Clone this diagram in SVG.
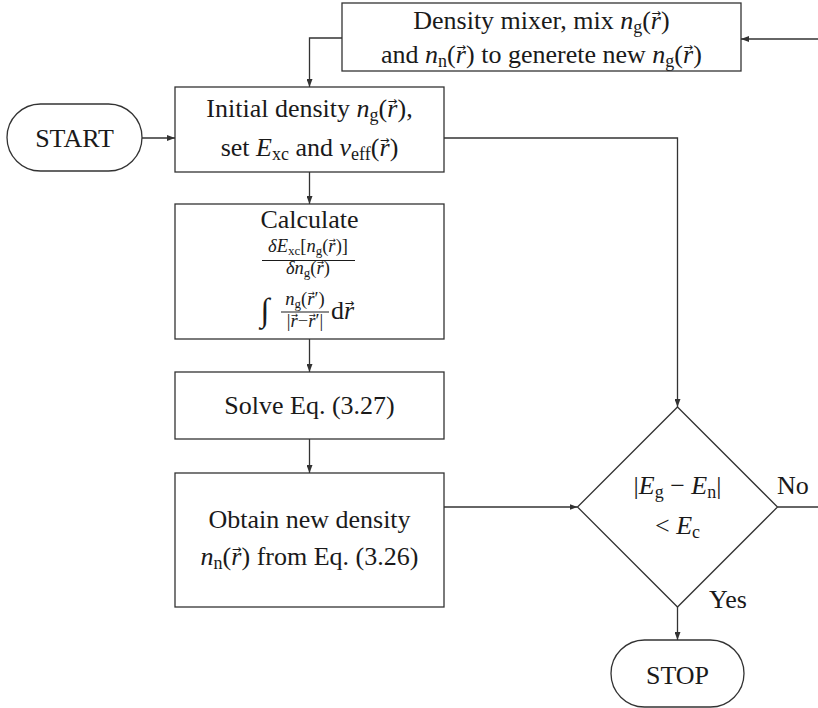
<svg xmlns="http://www.w3.org/2000/svg" width="818" height="708" viewBox="0 0 818 708">
<style>
.t{font-family:"Liberation Serif","DejaVu Serif",serif;font-size:26px;fill:#1a1a1a}
.i{font-style:italic}
.s{font-size:18px}
.f{font-size:18.5px}
.ss{font-size:13px}
.v{font-family:"DejaVu Sans",sans-serif;font-size:11.5px;font-style:normal}
.vs{font-family:"DejaVu Sans",sans-serif;font-size:8.5px;font-style:normal}
.box{fill:#fff;stroke:#333;stroke-width:1.3}
.conn{fill:none;stroke:#333;stroke-width:1.3}
.bar{stroke:#1a1a1a;stroke-width:1}
</style>
<defs>
<marker id="ah" viewBox="0 0 8 6" refX="8" refY="3" markerWidth="8" markerHeight="6" markerUnits="userSpaceOnUse" orient="auto">
<path d="M0,0 L8,3 L0,6 z" fill="#333"/>
</marker>
</defs>

<g id="connectors">
<path class="conn" d="M142,138 H175" marker-end="url(#ah)"/>
<path class="conn" d="M309.5,172 V204" marker-end="url(#ah)"/>
<path class="conn" d="M309.5,339 V372" marker-end="url(#ah)"/>
<path class="conn" d="M309.5,439 V473" marker-end="url(#ah)"/>
<path class="conn" d="M444,507 H577.5" marker-end="url(#ah)"/>
<path class="conn" d="M444,138 H677.5 V407" marker-end="url(#ah)"/>
<path class="conn" d="M677.5,607 V640" marker-end="url(#ah)"/>
<path class="conn" d="M777.5,507 H818"/>
<path class="conn" d="M818,39 H741" marker-end="url(#ah)"/>
<path class="conn" d="M342,38 H309.5 V87" marker-end="url(#ah)"/>
</g>

<g id="start">
<rect class="box" x="7" y="104" width="135" height="67" rx="33.5"/>
<text class="t" x="74.5" y="147" text-anchor="middle">START</text>
</g>

<g id="mixer">
<rect class="box" x="342" y="3" width="399" height="68"/>
<text class="t" x="541.5" y="29" text-anchor="middle">Density mixer, mix <tspan class="i">n</tspan><tspan class="s" dy="4">g</tspan><tspan dy="-4">(</tspan><tspan class="i">r</tspan><tspan class="v" dx="-9.5" dy="-12.5">→</tspan><tspan dy="12.5">)</tspan></text>
<text class="t" x="541.5" y="63" text-anchor="middle">and <tspan class="i">n</tspan><tspan class="s" dy="4">n</tspan><tspan dy="-4">(</tspan><tspan class="i">r</tspan><tspan class="v" dx="-9.5" dy="-12.5">→</tspan><tspan dy="12.5">)</tspan> to generete new <tspan class="i">n</tspan><tspan class="s" dy="4">g</tspan><tspan dy="-4">(</tspan><tspan class="i">r</tspan><tspan class="v" dx="-9.5" dy="-12.5">→</tspan><tspan dy="12.5">)</tspan></text>
</g>

<g id="initial">
<rect class="box" x="175" y="87" width="269" height="85"/>
<text class="t" x="309.5" y="117" text-anchor="middle">Initial density <tspan class="i">n</tspan><tspan class="s" dy="4">g</tspan><tspan dy="-4">(</tspan><tspan class="i">r</tspan><tspan class="v" dx="-9.5" dy="-12.5">→</tspan><tspan dy="12.5">),</tspan></text>
<text class="t" x="309.5" y="156" text-anchor="middle">set <tspan class="i">E</tspan><tspan class="s" dy="4">xc</tspan><tspan dy="-4"> and </tspan><tspan class="i">v</tspan><tspan class="s" dy="4">eff</tspan><tspan dy="-4">(</tspan><tspan class="i">r</tspan><tspan class="v" dx="-9.5" dy="-12.5">→</tspan><tspan dy="12.5">)</tspan></text>
</g>

<g id="calculate">
<rect class="box" x="175" y="204" width="269" height="135"/>
<text class="t" x="309.5" y="228" text-anchor="middle">Calculate</text>
<text class="t f" x="308" y="252" text-anchor="middle"><tspan class="i">δE</tspan><tspan class="ss" dy="3">xc</tspan><tspan dy="-3">[</tspan><tspan class="i">n</tspan><tspan class="ss" dy="3">g</tspan><tspan dy="-3">(</tspan><tspan class="i">r</tspan><tspan class="vs" dx="-7" dy="-9">→</tspan><tspan dy="9">)]</tspan></text>
<line class="bar" x1="262" y1="260.5" x2="355" y2="260.5"/>
<text class="t f" x="308" y="274" text-anchor="middle"><tspan class="i">δn</tspan><tspan class="ss" dy="3">g</tspan><tspan dy="-3">(</tspan><tspan class="i">r</tspan><tspan class="vs" dx="-7" dy="-9">→</tspan><tspan dy="9">)</tspan></text>
<text class="t i" x="265" y="321" text-anchor="middle" style="font-size:33px">∫</text>
<text class="t f" x="305" y="305" text-anchor="middle"><tspan class="i">n</tspan><tspan class="ss" dy="3">g</tspan><tspan dy="-3">(</tspan><tspan class="i">r</tspan><tspan class="vs" dx="-7" dy="-9">→</tspan><tspan dy="9">′)</tspan></text>
<line class="bar" x1="281" y1="312" x2="329" y2="312"/>
<text class="t f" x="305" y="327" text-anchor="middle">|<tspan class="i">r</tspan><tspan class="vs" dx="-7" dy="-9">→</tspan><tspan dy="9">−</tspan><tspan class="i">r</tspan><tspan class="vs" dx="-7" dy="-9">→</tspan><tspan dy="9">′|</tspan></text>
<text class="t" x="331" y="319">d<tspan class="i">r</tspan><tspan class="v" dx="-9.5" dy="-12.5">→</tspan></text>
</g>

<g id="solve">
<rect class="box" x="175" y="372" width="269" height="67"/>
<text class="t" x="309.5" y="414" text-anchor="middle">Solve Eq. (3.27)</text>
</g>

<g id="obtain">
<rect class="box" x="175" y="473" width="269" height="134"/>
<text class="t" x="309.5" y="528" text-anchor="middle">Obtain new density</text>
<text class="t" x="309.5" y="565" text-anchor="middle"><tspan class="i">n</tspan><tspan class="s" dy="4">n</tspan><tspan dy="-4">(</tspan><tspan class="i">r</tspan><tspan class="v" dx="-9.5" dy="-12.5">→</tspan><tspan dy="12.5">) from Eq. (3.26)</tspan></text>
</g>

<g id="decision">
<polygon class="box" points="677.5,407 777.5,507 677.5,607 577.5,507"/>
<text class="t" x="677.5" y="494" text-anchor="middle">|<tspan class="i">E</tspan><tspan class="s" dy="4">g</tspan><tspan dy="-4"> − </tspan><tspan class="i">E</tspan><tspan class="s" dy="4">n</tspan><tspan dy="-4">|</tspan></text>
<text class="t" x="677.5" y="534" text-anchor="middle">&lt; <tspan class="i">E</tspan><tspan class="s" dy="4">c</tspan></text>
<text class="t" x="777" y="494">No</text>
<text class="t" x="709" y="608">Yes</text>
</g>

<g id="stop">
<rect class="box" x="611" y="640" width="133" height="67" rx="33.5"/>
<text class="t" x="677.5" y="684" text-anchor="middle">STOP</text>
</g>
</svg>
